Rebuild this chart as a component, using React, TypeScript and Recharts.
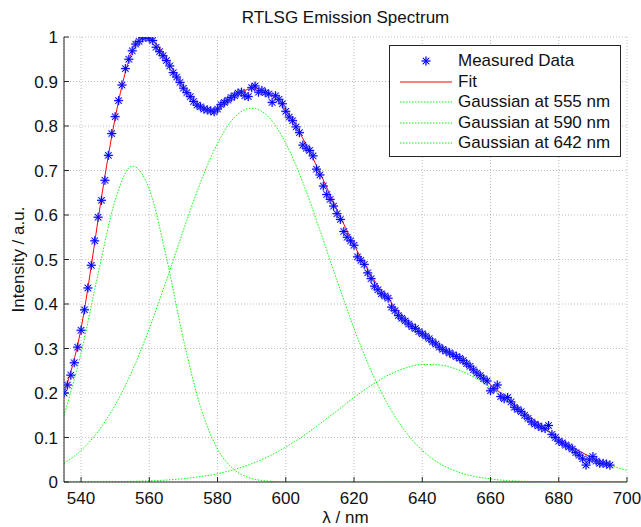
import React from 'react';
import { ComposedChart, Line, Scatter, XAxis, YAxis, CartesianGrid, Legend } from 'recharts';

// wavelengths of the measured points (nm)
const lambdaMeasured = [
  535, 536, 537, 538, 539, 540, 541, 542, 543, 544,
  545, 546, 547, 548, 549, 550, 551, 552, 553, 554,
  555, 556, 557, 558, 559, 560, 561, 562, 563, 564,
  565, 566, 567, 568, 569, 570, 571, 572, 573, 574,
  575, 576, 577, 578, 579, 580, 581, 582, 583, 584,
  585, 586, 587, 588, 589, 590, 591, 592, 593, 594,
  595, 596, 597, 598, 599, 600, 601, 602, 603, 604,
  605, 606, 607, 608, 609, 610, 611, 612, 613, 614,
  615, 616, 617, 618, 619, 620, 621, 622, 623, 624,
  625, 626, 627, 628, 629, 630, 631, 632, 633, 634,
  635, 636, 637, 638, 639, 640, 641, 642, 643, 644,
  645, 646, 647, 648, 649, 650, 651, 652, 653, 654,
  655, 656, 657, 658, 659, 660, 661, 662, 663, 664,
  665, 666, 667, 668, 669, 670, 671, 672, 673, 674,
  675, 676, 677, 678, 679, 680, 681, 682, 683, 684,
  685, 686, 687, 688, 689, 690, 691, 692, 693, 694,
  695,
];

const measured = [
  0.2, 0.218, 0.24, 0.268, 0.303, 0.341, 0.387, 0.436, 0.487, 0.542,
  0.595, 0.633, 0.678, 0.734, 0.783, 0.821, 0.857, 0.892, 0.929, 0.95,
  0.969, 0.984, 0.99, 0.998, 1.0, 0.997, 0.992, 0.977, 0.967, 0.958,
  0.947, 0.935, 0.92, 0.91, 0.898, 0.885, 0.875, 0.866, 0.855, 0.847,
  0.843, 0.838, 0.836, 0.834, 0.832, 0.838, 0.848, 0.853, 0.858, 0.864,
  0.868, 0.874, 0.876, 0.868, 0.866, 0.886, 0.89, 0.876, 0.88, 0.875,
  0.872, 0.853, 0.868, 0.86, 0.85, 0.833, 0.82, 0.812, 0.798, 0.785,
  0.757, 0.75, 0.745, 0.733, 0.703, 0.69, 0.665, 0.646, 0.635, 0.62,
  0.603, 0.59, 0.563, 0.55, 0.542, 0.532, 0.506, 0.498, 0.489, 0.47,
  0.457, 0.44, 0.432, 0.423, 0.418, 0.413, 0.393, 0.385, 0.374, 0.368,
  0.362, 0.355, 0.349, 0.345, 0.338, 0.333, 0.328, 0.322, 0.315, 0.31,
  0.303, 0.298, 0.294, 0.29, 0.286, 0.282, 0.278, 0.273, 0.266, 0.26,
  0.252, 0.245, 0.239, 0.232, 0.227, 0.205, 0.21, 0.218, 0.192, 0.187,
  0.19, 0.18, 0.168, 0.163, 0.158, 0.15, 0.143, 0.135, 0.13, 0.126,
  0.122, 0.12, 0.127, 0.107, 0.1, 0.092, 0.088, 0.083, 0.079, 0.074,
  0.066, 0.06, 0.052, 0.038, 0.05, 0.057, 0.047, 0.042, 0.042, 0.04,
  0.038,
];

// 5 nm grid for the fitted curves
const lambdaCurve = [
  535, 540, 545, 550, 555, 560, 565, 570, 575, 580, 585, 590,
  595, 600, 605, 610, 615, 620, 625, 630, 635, 640, 645, 650,
  655, 660, 665, 670, 675, 680, 685, 690, 695, 700,
];

const fit = [
  0.198, 0.345, 0.59, 0.818, 0.968, 0.998, 0.952, 0.887, 0.846, 0.838, 0.866, 0.884,
  0.874, 0.836, 0.772, 0.695, 0.612, 0.533, 0.464, 0.411, 0.368, 0.334, 0.305, 0.279,
  0.25, 0.219, 0.187, 0.156, 0.126, 0.098, 0.074, 0.054, 0.038,
];

const gauss555 = [
  0.15, 0.29, 0.468, 0.633, 0.71, 0.658, 0.505, 0.321, 0.169, 0.074, 0.027, 0.008,
  0.002, 0, 0, 0, 0, 0, 0, 0, 0, 0, 0, 0,
  0, 0, 0, 0, 0, 0, 0, 0, 0, 0,
];

const gauss590 = [
  0.042, 0.071, 0.114, 0.173, 0.25, 0.345, 0.453, 0.566, 0.673, 0.761, 0.82, 0.84,
  0.82, 0.761, 0.673, 0.566, 0.453, 0.345, 0.25, 0.173, 0.114, 0.071, 0.042, 0.024,
  0.013, 0.007, 0.003, 0.0015, 0.0007, 0.0003, 0.0001, 0, 0, 0,
];

const gauss642 = [
  0.0001, 0.0002, 0.0004, 0.0008, 0.0014, 0.0026, 0.0044, 0.0074, 0.012, 0.0187, 0.0282, 0.041,
  0.0578, 0.0785, 0.103, 0.131, 0.16, 0.19, 0.217, 0.24, 0.256, 0.264, 0.263, 0.2535,
  0.236, 0.212, 0.184, 0.154, 0.125, 0.098, 0.074, 0.054, 0.038, 0.026,
];

const xTicks = [540, 560, 580, 600, 620, 640, 660, 680, 700];
const yTicks = [0, 0.1, 0.2, 0.3, 0.4, 0.5, 0.6, 0.7, 0.8, 0.9, 1];

const legendLabels = ['Measured Data', 'Fit', 'Gaussian at 555 nm', 'Gaussian at 590 nm', 'Gaussian at 642 nm'];

const measuredData = lambdaMeasured.map((lambda, i) => ({ lambda, value: measured[i] }));
const fitData = fit.map((value, i) => ({ lambda: lambdaCurve[i], value }));
const g555Data = gauss555.map((value, i) => ({ lambda: lambdaCurve[i], value }));
const g590Data = gauss590.map((value, i) => ({ lambda: lambdaCurve[i], value }));
const g642Data = gauss642.map((value, i) => ({ lambda: lambdaCurve[i], value }));

const AXIS = '#262626';
const BLUE = '#0000ff';
const RED = '#ff0000';
const GREEN = '#00ff00';

// matlab style '*' marker
const Asterisk = ({ cx, cy }: { cx: number; cy: number }) => {
  const r = 4.5;
  const d = 3.2;
  const arms = (
    <>
      <line x1={cx - r} y1={cy} x2={cx + r} y2={cy} />
      <line x1={cx} y1={cy - r} x2={cx} y2={cy + r} />
      <line x1={cx - d} y1={cy - d} x2={cx + d} y2={cy + d} />
      <line x1={cx - d} y1={cy + d} x2={cx + d} y2={cy - d} />
    </>
  );
  return (
    <g>
      <g stroke="#7070ff" strokeWidth={2} strokeOpacity={0.45}>{arms}</g>
      <g stroke={BLUE} strokeWidth={1}>{arms}</g>
    </g>
  );
};

const LegendBox = () => (
  <div
    style={{
      boxSizing: 'border-box',
      width: 232,
      height: 112,
      border: `1px solid ${AXIS}`,
      background: '#fff',
      padding: '5px 0 3px 0',
      fontSize: 17,
      color: '#111',
    }}
  >
    {legendLabels.map((label, i) => (
      <div key={label} style={{ display: 'flex', alignItems: 'center', height: 20.5 }}>
        <svg width={52} height={12} style={{ marginLeft: 10 }}>
          {i === 0 && <Asterisk cx={26} cy={6} />}
          {i === 1 && <line x1={0} y1={6} x2={52} y2={6} stroke={RED} strokeWidth={1} />}
          {i > 1 && <line x1={0} y1={6} x2={52} y2={6} stroke={GREEN} strokeWidth={1} strokeDasharray="1.5 1.5" />}
        </svg>
        <span style={{ marginLeft: 6, whiteSpace: 'nowrap' }}>{label}</span>
      </div>
    ))}
  </div>
);

export default function App() {
  return (
    <div
      style={{
        position: 'absolute',
        left: 0,
        top: 0,
        width: 641,
        height: 527,
        background: '#fff',
        fontFamily: '"Liberation Sans", Arial, sans-serif',
        color: '#111',
      }}
    >
      <div style={{ position: 'absolute', left: 64, width: 563, top: 7, textAlign: 'center', fontSize: 17, lineHeight: '22px' }}>
        RTLSG Emission Spectrum
      </div>
      <ComposedChart width={641} height={527} margin={{ top: 37, right: 14, bottom: 0, left: 0 }}>
        <CartesianGrid stroke="#bdbdbd" strokeDasharray="1 2" />
        <XAxis
          dataKey="lambda"
          type="number"
          domain={[535, 700]}
          allowDataOverflow
          ticks={xTicks}
          height={45}
          stroke={AXIS}
          tickSize={-5}
          tickMargin={15}
          tick={{ fontSize: 17, fill: '#111' }}
          label={{ value: 'λ / nm', position: 'insideBottom', offset: 4, fontSize: 17, fill: '#111' }}
        />
        <XAxis
          xAxisId="top"
          orientation="top"
          dataKey="lambda"
          type="number"
          domain={[535, 700]}
          allowDataOverflow
          ticks={xTicks}
          height={0}
          stroke={AXIS}
          tickSize={-5}
          tick={false}
        />
        <YAxis
          type="number"
          domain={[0, 1]}
          allowDataOverflow
          ticks={yTicks}
          width={64}
          stroke={AXIS}
          tickSize={-5}
          tickMargin={11}
          tick={{ fontSize: 17, fill: '#111' }}
          label={{
            value: 'Intensity / a.u.',
            angle: -90,
            position: 'insideLeft',
            offset: 18,
            fontSize: 17,
            fill: '#111',
            style: { textAnchor: 'middle' },
          }}
        />
        <YAxis
          yAxisId="right"
          orientation="right"
          type="number"
          domain={[0, 1]}
          allowDataOverflow
          ticks={yTicks}
          width={0}
          stroke={AXIS}
          tickSize={-5}
          tick={false}
        />
        <Line data={g555Data} dataKey="value" type="monotone" stroke={GREEN} strokeWidth={1} strokeDasharray="1.5 1.5" dot={false} isAnimationActive={false} />
        <Line data={g590Data} dataKey="value" type="monotone" stroke={GREEN} strokeWidth={1} strokeDasharray="1.5 1.5" dot={false} isAnimationActive={false} />
        <Line data={g642Data} dataKey="value" type="monotone" stroke={GREEN} strokeWidth={1} strokeDasharray="1.5 1.5" dot={false} isAnimationActive={false} />
        <Scatter
          data={measuredData}
          dataKey="value"
          isAnimationActive={false}
          shape={(p: any) => <Asterisk cx={p.cx} cy={p.cy} />}
        />
        <Line data={fitData} dataKey="value" type="natural" stroke={RED} strokeWidth={1} dot={false} isAnimationActive={false} />
        <Legend
          layout="horizontal"
          verticalAlign="middle"
          align="center"
          wrapperStyle={{ left: 389, top: 45, width: 232, height: 112 }}
          content={() => <LegendBox />}
        />
      </ComposedChart>
    </div>
  );
}
